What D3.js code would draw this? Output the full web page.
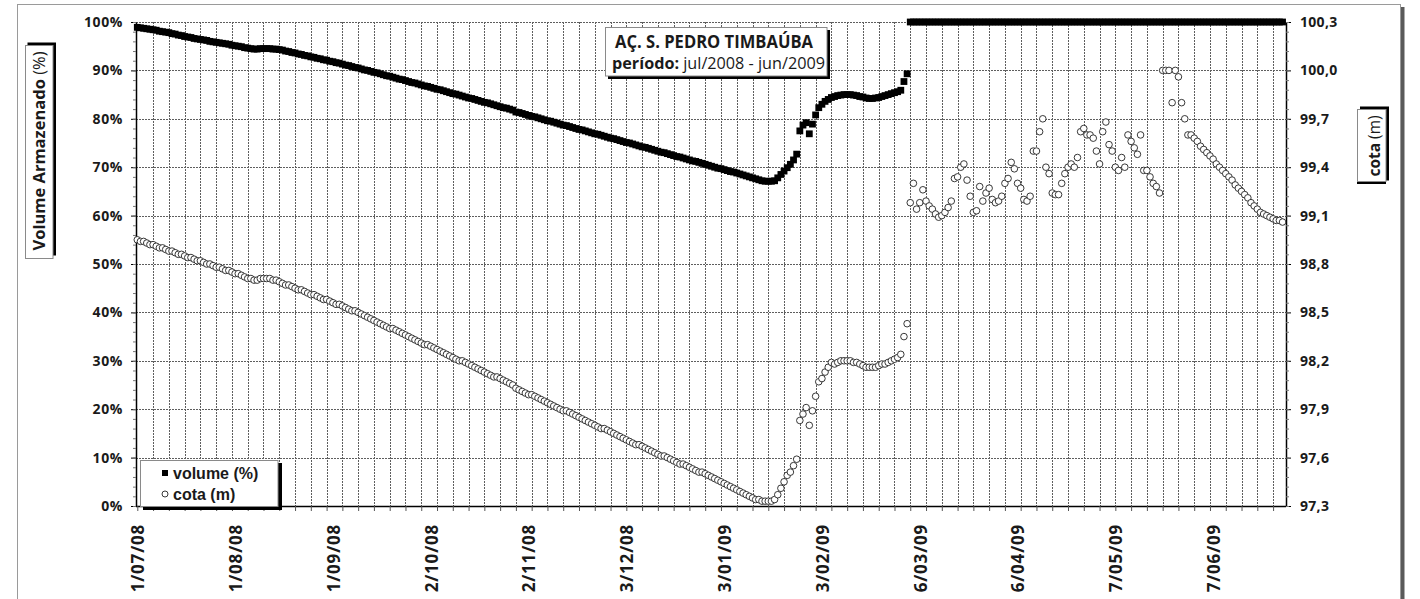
<!DOCTYPE html>
<html>
<head>
<meta charset="utf-8">
<script src="https://cdn.jsdelivr.net/npm/d3@7"></script>
<style>
  body { margin: 0; background: #fff; }
  svg { display: block; }
  .tick text { font-family: "Open Sans", sans-serif; font-weight: bold; fill: #1a1a1a; }
</style>
</head>
<body>
<script>
// first and last day of the series (one value per day)
var firstDay = "2008-07-01";
var lastDay = "2009-06-30";

// volume armazenado (%)
var volume = [
  98.9, 98.8, 98.7, 98.6, 98.5, 98.4, 98.3, 98.1, 98.0, 97.9,
  97.8, 97.6, 97.5, 97.3, 97.2, 97.0, 96.9, 96.8, 96.6, 96.5,
  96.4, 96.3, 96.2, 96.0, 95.9, 95.8, 95.7, 95.6, 95.5, 95.4,
  95.2, 95.1, 95.0, 94.9, 94.7, 94.6, 94.5, 94.4, 94.4, 94.5,
  94.5, 94.5, 94.5, 94.4, 94.4, 94.3, 94.2, 94.0, 93.9, 93.7,
  93.6, 93.4, 93.3, 93.1, 93.0, 92.8, 92.7, 92.5, 92.4, 92.2,
  92.1, 91.9, 91.8, 91.6, 91.5, 91.3, 91.1, 91.0, 90.8, 90.6,
  90.5, 90.3, 90.1, 90.0, 89.8, 89.6, 89.5, 89.3, 89.1, 88.9,
  88.8, 88.6, 88.4, 88.2, 88.1, 87.9, 87.7, 87.5, 87.4, 87.2,
  87.0, 86.8, 86.7, 86.5, 86.3, 86.1, 86.0, 85.8, 85.6, 85.4,
  85.2, 85.1, 84.9, 84.7, 84.5, 84.3, 84.2, 84.0, 83.8, 83.6,
  83.4, 83.3, 83.1, 82.9, 82.7, 82.5, 82.3, 82.2, 82.0, 81.8,
  81.4, 81.3, 81.1, 80.9, 80.7, 80.5, 80.4, 80.2, 80.0,
  79.8, 79.6, 79.5, 79.3, 79.1, 78.9, 78.7, 78.6, 78.4, 78.2,
  78.0, 77.8, 77.7, 77.5, 77.3, 77.1, 76.9, 76.8, 76.6, 76.4,
  76.2, 76.0, 75.9, 75.7, 75.5, 75.3, 75.1, 75.0, 74.8, 74.6,
  74.4, 74.2, 74.1, 73.9, 73.7, 73.5, 73.3, 73.1, 73.0, 72.8,
  72.6, 72.4, 72.2, 72.1, 71.9, 71.7, 71.5, 71.3, 71.2, 71.0,
  70.8, 70.6, 70.4, 70.2, 70.0, 69.8, 69.7, 69.5, 69.3, 69.1,
  69.0, 68.8, 68.6, 68.4, 68.2, 68.0, 67.8, 67.6, 67.4, 67.2,
  67.1, 67.1, 67.1, 67.2, 67.8, 68.5, 69.2, 69.9, 70.6, 71.5,
  72.7, 77.5, 78.7, 79.2, 76.9, 78.9, 80.8, 82.3, 83.0, 83.6,
  84.0, 84.4, 84.6, 84.8, 84.9, 85.0, 85.0, 85.0, 84.9, 84.8,
  84.6, 84.5, 84.3, 84.2, 84.2, 84.3, 84.4, 84.6, 84.8, 85.0,
  85.2, 85.4, 85.6, 85.9, 87.7, 89.3,
  100, 100, 100, 100, 100, 100, 100, 100, 100, 100,
  100, 100, 100, 100, 100, 100, 100, 100, 100, 100,
  100, 100, 100, 100, 100, 100, 100, 100, 100, 100,
  100, 100, 100, 100, 100, 100, 100, 100, 100, 100,
  100, 100, 100, 100, 100, 100, 100, 100, 100, 100,
  100, 100, 100, 100, 100, 100, 100, 100, 100, 100,
  100, 100, 100, 100, 100, 100, 100, 100, 100, 100,
  100, 100, 100, 100, 100, 100, 100, 100, 100, 100,
  100, 100, 100, 100, 100, 100, 100, 100, 100, 100,
  100, 100, 100, 100, 100, 100, 100, 100, 100, 100,
  100, 100, 100, 100, 100, 100, 100, 100, 100, 100,
  100, 100, 100, 100, 100, 100, 100, 100, 100
];

// cota (m)
var cota = [
  98.95, 98.94, 98.94, 98.93, 98.92, 98.92, 98.91, 98.90, 98.90, 98.89,
  98.88, 98.88, 98.87, 98.86, 98.86, 98.85, 98.84, 98.84, 98.83, 98.82,
  98.82, 98.81, 98.80, 98.80, 98.79, 98.78, 98.78, 98.77, 98.76, 98.76,
  98.75, 98.74, 98.74, 98.73, 98.72, 98.71, 98.71, 98.70, 98.70, 98.71,
  98.71, 98.71, 98.71, 98.70, 98.70, 98.69, 98.68, 98.67, 98.67, 98.66,
  98.65, 98.64, 98.64, 98.63, 98.62, 98.61, 98.61, 98.60, 98.59, 98.58,
  98.58, 98.57, 98.56, 98.55, 98.55, 98.54, 98.53, 98.52, 98.51, 98.51,
  98.50, 98.49, 98.48, 98.47, 98.46, 98.45, 98.44, 98.43, 98.42, 98.41,
  98.40, 98.40, 98.39, 98.38, 98.37, 98.36, 98.35, 98.34, 98.33, 98.32,
  98.31, 98.30, 98.30, 98.29, 98.28, 98.27, 98.26, 98.25, 98.24, 98.23,
  98.22, 98.21, 98.20, 98.20, 98.19, 98.18, 98.17, 98.16, 98.15, 98.14,
  98.13, 98.12, 98.11, 98.10, 98.10, 98.09, 98.08, 98.07, 98.06, 98.05,
  98.03, 98.02, 98.01, 98.00, 97.99, 97.99, 97.98, 97.97, 97.96,
  97.95, 97.94, 97.93, 97.92, 97.91, 97.90, 97.89, 97.89, 97.88, 97.87,
  97.86, 97.85, 97.84, 97.83, 97.82, 97.81, 97.80, 97.79, 97.78, 97.78,
  97.77, 97.76, 97.75, 97.74, 97.73, 97.72, 97.71, 97.70, 97.69, 97.68,
  97.68, 97.67, 97.66, 97.65, 97.64, 97.63, 97.62, 97.61, 97.61, 97.60,
  97.59, 97.58, 97.57, 97.56, 97.56, 97.55, 97.54, 97.53, 97.52, 97.51,
  97.51, 97.50, 97.49, 97.48, 97.47, 97.46, 97.45, 97.44, 97.43, 97.42,
  97.41, 97.40, 97.39, 97.38, 97.37, 97.36, 97.35, 97.34, 97.34, 97.33,
  97.33, 97.33, 97.33, 97.34, 97.37, 97.41, 97.45, 97.49, 97.51, 97.55,
  97.59, 97.83, 97.87, 97.91, 97.80, 97.89, 97.98, 98.07, 98.09, 98.13,
  98.16, 98.19, 98.18, 98.19, 98.20, 98.20, 98.20, 98.20, 98.19, 98.19,
  98.18, 98.17, 98.16, 98.16, 98.16, 98.16, 98.17, 98.18, 98.18, 98.19,
  98.20, 98.21, 98.22, 98.24, 98.35, 98.43,
  99.18, 99.30, 99.14, 99.18, 99.26, 99.19, 99.16, 99.14, 99.11, 99.09,
  99.10, 99.12, 99.15, 99.19, 99.33, 99.34, 99.40, 99.42, 99.32, 99.22,
  99.12, 99.13, 99.28, 99.19, 99.24, 99.27, 99.20, 99.18, 99.19, 99.22,
  99.30, 99.33, 99.43, 99.39, 99.30, 99.27, 99.20, 99.19, 99.22, 99.50,
  99.50, 99.62, 99.70, 99.40, 99.36, 99.24, 99.23, 99.23, 99.30, 99.36,
  99.40, 99.42, 99.40, 99.46, 99.62, 99.64, 99.60, 99.60, 99.58, 99.50,
  99.42, 99.62, 99.68, 99.54, 99.50, 99.40, 99.38, 99.46, 99.40, 99.60,
  99.56, 99.52, 99.48, 99.60, 99.38, 99.38, 99.34, 99.30, 99.28, 99.24,
  100.00, 100.00, 100.00, 99.80, 100.00, 99.96, 99.80, 99.70, 99.60, 99.60,
  99.58, 99.56, 99.53, 99.51, 99.49, 99.47, 99.45, 99.42, 99.40, 99.38,
  99.36, 99.34, 99.32, 99.29, 99.27, 99.25, 99.23, 99.21, 99.18, 99.16,
  99.14, 99.12, 99.11, 99.10, 99.09, 99.08, 99.07, 99.07, 99.06
];

// labelled days on the x axis
var labelDays = ["2008-07-01", "2008-08-01", "2008-09-01", "2008-10-02", "2008-11-02", "2008-12-03",
                 "2009-01-03", "2009-02-03", "2009-03-06", "2009-04-06", "2009-05-07", "2009-06-07"];

// axis ticks
var volumeTicks = [0, 10, 20, 30, 40, 50, 60, 70, 80, 90, 100];
var cotaTicks = [97.3, 97.6, 97.9, 98.2, 98.5, 98.8, 99.1, 99.4, 99.7, 100.0, 100.3];

// texts
var seriesNames = ["volume (%)", "cota (m)"];
var titleText = "AÇ. S. PEDRO TIMBAÚBA";
var periodLabel = "período:";
var periodText = " jul/2008 - jun/2009";

var parseDay = d3.timeParse("%Y-%m-%d");
var formatDay = d3.timeFormat("%-d/%m/%y");
var start = parseDay(firstDay);
function dayOf(i) { return d3.timeDay.offset(start, i); }

// plot box
var plotLeft = 136, plotRight = 1286, plotTop = 22, plotBottom = 506;

var x = d3.scaleTime().domain([start, parseDay(lastDay)]).range([137.3, 1285.7]);
var y = d3.scaleLinear().domain([0, 100]).range([plotBottom, plotTop]);
var yr = d3.scaleLinear().domain([97.3, 100.3]).range([plotBottom, plotTop]);

var svg = d3.select("body").append("svg")
    .attr("width", 1420)
    .attr("height", 599);

// outer frame and its shadow
svg.append("rect").attr("x", 1400.5).attr("y", 7).attr("width", 4).attr("height", 600).attr("fill", "#5a5a5a");
svg.append("rect").attr("x", 17.5).attr("y", 4.5).attr("width", 1383).attr("height", 640)
    .attr("fill", "#fff").attr("stroke", "#9a9a9a");

// grid lines
var gridDays = d3.range(5, 364, 5).map(dayOf);
svg.append("g").selectAll("line").data(gridDays).enter().append("line")
    .attr("x1", function(d) { return Math.round(x(d)) + 0.5; })
    .attr("x2", function(d) { return Math.round(x(d)) + 0.5; })
    .attr("y1", plotTop).attr("y2", plotBottom)
    .attr("stroke", "#5e5e5e").attr("stroke-dasharray", "2,1");

svg.append("g").selectAll("line").data(volumeTicks.slice(1)).enter().append("line")
    .attr("x1", plotLeft).attr("x2", plotRight)
    .attr("y1", function(d) { return Math.round(y(d)) + 0.5; })
    .attr("y2", function(d) { return Math.round(y(d)) + 0.5; })
    .attr("stroke", "#5e5e5e").attr("stroke-dasharray", "2,1");

// left axis
var leftAxis = svg.append("g").attr("transform", "translate(" + plotLeft + ",0)")
    .call(d3.axisLeft(y).tickValues(volumeTicks).tickFormat(function(d) { return d + "%"; })
        .tickSize(5).tickSizeOuter(0).tickPadding(8));
svg.append("g").attr("transform", "translate(" + plotLeft + ",0)")
    .call(d3.axisLeft(y).tickValues(d3.range(0, 101, 2)).tickFormat("").tickSize(3).tickSizeOuter(0))
    .call(function(g) { g.select(".domain").remove(); g.selectAll("line").attr("stroke", "#777"); });
leftAxis.selectAll("text").style("font-size", "14px").style("letter-spacing", "0.6px");
leftAxis.select(".domain").attr("stroke", "#000").attr("stroke-width", 1.5);

// right axis
var rightAxis = svg.append("g").attr("transform", "translate(" + plotRight + ",0)")
    .call(d3.axisRight(yr).tickValues(cotaTicks)
        .tickFormat(function(d) { return d3.format(".1f")(d).replace(".", ","); })
        .tickSize(5).tickSizeOuter(0).tickPadding(9));
svg.append("g").attr("transform", "translate(" + plotRight + ",0)")
    .call(d3.axisRight(yr).tickValues(d3.range(0, 51).map(function(i) { return 97.3 + i * 0.06; }))
        .tickFormat("").tickSize(3).tickSizeOuter(0))
    .call(function(g) { g.select(".domain").remove(); g.selectAll("line").attr("stroke", "#777"); });
rightAxis.selectAll("text").style("font-size", "14px").style("letter-spacing", "0.3px");
rightAxis.select(".domain").attr("stroke", "#000").attr("stroke-width", 1.5);

// bottom axis
var bottomAxis = svg.append("g").attr("transform", "translate(0," + plotBottom + ")")
    .call(d3.axisBottom(x).tickValues(d3.range(0, 364, 5).map(dayOf)).tickFormat("")
        .tickSize(5).tickSizeOuter(0));
bottomAxis.select(".domain").attr("stroke", "#000").attr("stroke-width", 1.5).attr("d", "M" + plotLeft + ",0.5H" + plotRight);
bottomAxis.selectAll("line").attr("stroke", "#555");

svg.append("g").selectAll("text").data(labelDays).enter().append("text")
    .attr("transform", function(d) { return "translate(" + (x(parseDay(d)) + 1) + ",524) rotate(-90)"; })
    .attr("text-anchor", "end")
    .attr("dy", "0.35em")
    .style("font-family", "'Open Sans', sans-serif")
    .style("font-weight", "bold")
    .style("font-size", "17px")
    .style("letter-spacing", "0.8px")
    .attr("fill", "#1a1a1a")
    .text(function(d) { return formatDay(parseDay(d)); });

// cota points
svg.append("g").selectAll("circle").data(cota).enter().append("circle")
    .attr("cx", function(d, i) { return x(dayOf(i)); })
    .attr("cy", function(d) { return yr(d); })
    .attr("r", 3.3)
    .attr("fill", "#fff")
    .attr("stroke", "#222")
    .attr("stroke-width", 0.9);

// volume points
svg.append("g").selectAll("rect").data(volume).enter().append("rect")
    .attr("x", function(d, i) { return x(dayOf(i)) - 3.4; })
    .attr("y", function(d) { return y(d) - 3.4; })
    .attr("width", 6.8)
    .attr("height", 6.8)
    .attr("fill", "#000");

// left axis title
svg.append("rect").attr("x", 27.5).attr("y", 42.5).attr("width", 28.5).attr("height", 213).attr("fill", "#000");
svg.append("rect").attr("x", 25.5).attr("y", 45.5).attr("width", 27.5).attr("height", 213)
    .attr("fill", "#fff").attr("stroke", "#8a8a8a");
var leftTitle = svg.append("text")
    .attr("transform", "translate(39.5,151) rotate(-90)")
    .attr("text-anchor", "middle")
    .attr("dy", "0.36em")
    .style("font-family", "'Open Sans', sans-serif")
    .style("font-size", "16.5px")
    .attr("fill", "#1a1a1a");
leftTitle.append("tspan").style("font-weight", "bold").text("Volume Armazenado");
leftTitle.append("tspan").text(" (%)");

// right axis title
svg.append("rect").attr("x", 1360).attr("y", 106.5).attr("width", 29).attr("height", 74).attr("fill", "#000");
svg.append("rect").attr("x", 1357).attr("y", 181).attr("width", 29).attr("height", 3).attr("fill", "#000");
svg.append("rect").attr("x", 1357.5).attr("y", 109.5).attr("width", 28.5).attr("height", 72)
    .attr("fill", "#fff").attr("stroke", "#8a8a8a");
var rightTitle = svg.append("text")
    .attr("transform", "translate(1374.5,146) rotate(-90)")
    .attr("text-anchor", "middle")
    .attr("dy", "0.36em")
    .style("font-family", "'Open Sans', sans-serif")
    .style("font-size", "15.5px")
    .attr("fill", "#1a1a1a");
rightTitle.append("tspan").style("font-weight", "bold").text("cota");
rightTitle.append("tspan").text(" (m)");

// title box
svg.append("rect").attr("x", 608).attr("y", 30).attr("width", 222).attr("height", 49).attr("fill", "#000");
svg.append("rect").attr("x", 605.5).attr("y", 27.5).attr("width", 221.5).attr("height", 48.5)
    .attr("fill", "#fff").attr("stroke", "#8a8a8a");
svg.append("text")
    .attr("x", 615).attr("y", 48)
    .attr("textLength", 198).attr("lengthAdjust", "spacingAndGlyphs")
    .style("font-family", "'Open Sans', sans-serif")
    .style("font-weight", "bold")
    .style("font-size", "18.5px")
    .attr("fill", "#1a1a1a")
    .text(titleText);
var period = svg.append("text")
    .attr("x", 612).attr("y", 69)
    .attr("textLength", 213).attr("lengthAdjust", "spacingAndGlyphs")
    .style("font-family", "'Open Sans', sans-serif")
    .style("font-size", "16px")
    .attr("fill", "#1a1a1a");
period.append("tspan").style("font-weight", "bold").text(periodLabel);
period.append("tspan").text(periodText);

// legend
svg.append("rect").attr("x", 143).attr("y", 463).attr("width", 139).attr("height", 47).attr("fill", "#000");
svg.append("rect").attr("x", 140.5).attr("y", 460.5).attr("width", 137.5).attr("height", 46)
    .attr("fill", "#fff").attr("stroke", "#8a8a8a");
var legend = svg.append("g").selectAll("g").data(seriesNames).enter().append("g")
    .attr("transform", function(d, i) { return "translate(165," + (473 + i * 21) + ")"; });
legend.filter(function(d, i) { return i === 0; }).append("rect")
    .attr("x", -3).attr("y", -3).attr("width", 6).attr("height", 6).attr("fill", "#000");
legend.filter(function(d, i) { return i === 1; }).append("circle")
    .attr("r", 3).attr("fill", "#fff").attr("stroke", "#222").attr("stroke-width", 0.9);
legend.append("text")
    .attr("x", 8).attr("y", 5.5)
    .style("font-family", "'Liberation Sans', Arial, sans-serif")
    .style("font-weight", "bold")
    .style("font-size", "16px")
    .attr("fill", "#1a1a1a")
    .text(function(d) { return d; });
</script>
</body>
</html>
